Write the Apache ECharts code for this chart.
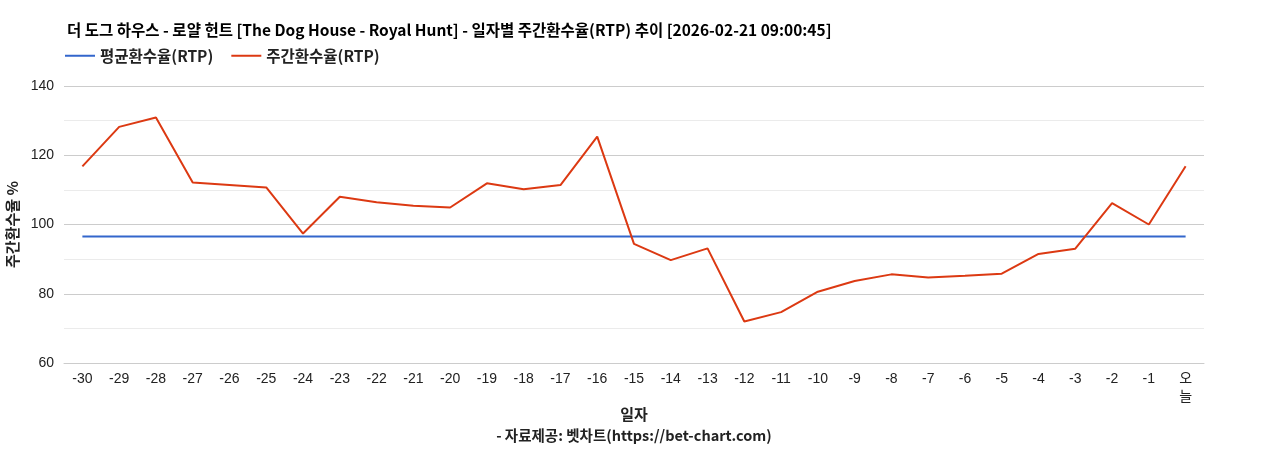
<!DOCTYPE html>
<html><head><meta charset="utf-8">
<script src="https://cdn.jsdelivr.net/npm/echarts@6/dist/echarts.min.js"></script>
<style>html,body{margin:0;padding:0;background:#fff}#c{width:1268px;height:450px}</style>
</head><body><div id="c"></div>
<script>
const categories = ['-30','-29','-28','-27','-26','-25','-24','-23','-22','-21','-20','-19','-18','-17','-16','-15','-14','-13','-12','-11','-10','-9','-8','-7','-6','-5','-4','-3','-2','-1','오늘'];
const weeklyRTP = [116.8,128.2,130.9,112.1,111.4,110.7,97.4,108.0,106.4,105.4,104.9,111.9,110.2,111.4,125.4,94.4,89.7,93.1,72.0,74.7,80.6,83.7,85.6,84.7,85.2,85.8,91.5,93.0,106.2,100.0,116.8];
const avgRTPValue = 96.5;
const avgRTP = categories.map(() => avgRTPValue);
const yTicks = [60, 80, 100, 120, 140];

const font = '"Noto Sans CJK KR", "Liberation Sans", sans-serif';
const chart = echarts.init(document.getElementById('c'));
chart.setOption({
  animation: false,
  textStyle: { fontFamily: font },
  title: {
    text: '더 도그 하우스 - 로얄 헌트 [The Dog House - Royal Hunt] - 일자별 주간환수율(RTP) 추이 [2026-02-21 09:00:45]',
    left: 62, top: 17,
    textStyle: { fontSize: 15.5, fontWeight: 'bold', color: '#000', fontFamily: font }
  },
  legend: {
    left: 60, top: 43, itemWidth: 30, itemHeight: 2, itemGap: 18,
    icon: 'rect',
    textStyle: { fontSize: 15.5, fontWeight: 'bold', color: '#222', fontFamily: font },
    data: ['평균환수율(RTP)', '주간환수율(RTP)']
  },
  grid: { left: 64, right: 64, top: 86, bottom: 87, containLabel: false, outerBoundsMode: 'none' },
  xAxis: {
    type: 'category', data: categories, boundaryGap: true,
    name: '일자', nameLocation: 'middle', nameGap: 44, nameMoveOverlap: false,
    nameTextStyle: { fontSize: 15, fontWeight: 'bold', color: '#222', fontFamily: font },
    axisLine: { lineStyle: { color: '#ccc' } },
    axisTick: { show: false },
    axisLabel: { interval: 0, fontSize: 14, color: '#222', margin: 7, fontFamily: '"Liberation Sans", "Noto Sans CJK KR", sans-serif',
      formatter: v => v === '오늘' ? '오\n늘' : v, lineHeight: 18 }
  },
  yAxis: {
    type: 'value', min: 60, max: 140, interval: 20,
    name: '주간환수율 %', nameLocation: 'middle', nameGap: 40, nameRotate: 90,
    nameTextStyle: { fontSize: 15, fontWeight: 'bold', color: '#222', fontFamily: font },
    axisLine: { show: false }, axisTick: { show: false },
    axisLabel: { fontSize: 14, color: '#222', margin: 10, fontFamily: '"Liberation Sans", sans-serif',
      formatter: v => yTicks.includes(v) ? String(v) : '' },
    splitLine: { lineStyle: { color: '#ccc' } },
    minorTick: { show: false, splitNumber: 2 },
    minorSplitLine: { show: true, lineStyle: { color: '#ebebeb' } }
  },
  graphic: [{
    type: 'text', left: 'center', top: 428,
    style: { text: '- 자료제공: 벳차트(https://bet-chart.com)', fontSize: 14.5, fontWeight: 'bold', fill: '#222', fontFamily: font }
  }],
  series: [
    { name: '평균환수율(RTP)', type: 'line', data: avgRTP, symbol: 'none', color: '#3366cc', lineStyle: { width: 2, color: '#3366cc' } },
    { name: '주간환수율(RTP)', type: 'line', data: weeklyRTP, symbol: 'none', color: '#dc3912', lineStyle: { width: 2, color: '#dc3912' } }
  ]
});
</script></body></html>
